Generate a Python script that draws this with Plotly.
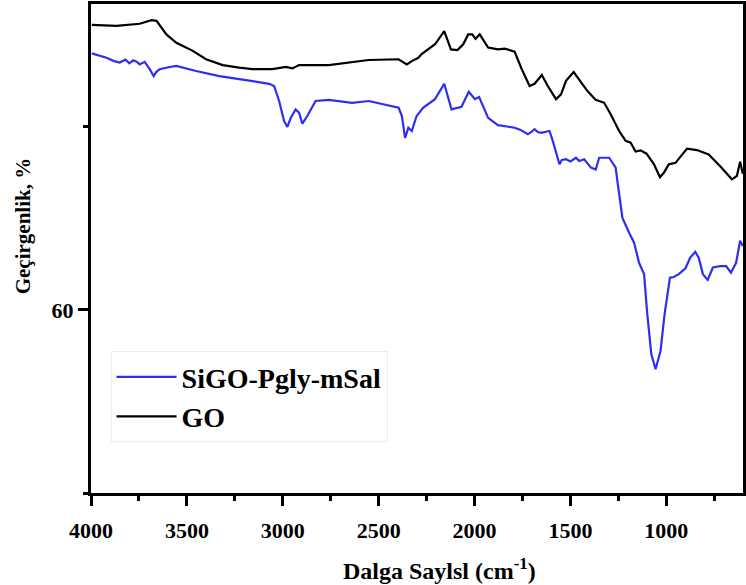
import plotly.graph_objects as go

# ---- data (wavenumber cm^-1, transmittance %) ----
go_wn = [3996, 3867, 3746, 3685, 3658, 3607, 3555, 3469, 3400, 3313, 3227, 3158, 3054,
         2984, 2950, 2915, 2760, 2639, 2552, 2396, 2371, 2353, 2327, 2293, 2276, 2206,
         2158, 2123, 2089, 2059, 2033, 2012, 1995, 1973, 1929, 1878, 1843, 1791, 1757,
         1713, 1687, 1649, 1618, 1575, 1549, 1523, 1483, 1454, 1411, 1368, 1324, 1290,
         1246, 1212, 1186, 1160, 1134, 1103, 1064, 1033, 1013, 987, 952, 892, 840, 779,
         719, 658, 632, 615, 601]
go_t = [67.79, 67.76, 67.82, 67.92, 67.90, 67.53, 67.30, 67.08, 66.85, 66.69, 66.62, 66.58,
        66.58, 66.64, 66.60, 66.69, 66.69, 66.76, 66.83, 66.85, 66.76, 66.71, 66.80, 66.89,
        66.99, 67.26, 67.62, 67.12, 67.10, 67.26, 67.53, 67.53, 67.41, 67.53, 67.17, 67.12,
        67.14, 67.06, 66.62, 66.12, 66.18, 66.42, 66.12, 65.76, 65.89, 66.26, 66.50, 66.30,
        65.98, 65.74, 65.66, 65.35, 64.89, 64.62, 64.57, 64.33, 64.36, 64.27, 63.98, 63.63,
        63.75, 63.98, 64.02, 64.41, 64.37, 64.25, 63.93, 63.57, 63.66, 64.05, 63.72]

sigo_wn = [3996, 3950, 3919, 3880, 3850, 3820, 3800, 3780, 3760, 3746, 3720, 3694, 3673,
           3660, 3642, 3590, 3555, 3452, 3331, 3192, 3071, 3045, 3019, 2993, 2976, 2958,
           2933, 2915, 2898, 2872, 2829, 2760, 2639, 2552, 2396, 2379, 2362, 2345, 2327,
           2302, 2267, 2206, 2158, 2120, 2068, 2030, 1998, 1976, 1929, 1878, 1791, 1760,
           1722, 1700, 1687, 1670, 1653, 1609, 1592, 1557, 1545, 1523, 1500, 1471, 1454,
           1428, 1393, 1368, 1350, 1298, 1264, 1255, 1229, 1194, 1168, 1142, 1116, 1099,
           1078, 1056, 1030, 1009, 981, 961, 935, 900, 875, 849, 831, 809, 784, 757, 719,
           688, 663, 636, 615, 601]
sigo_t = [67.01, 66.95, 66.89, 66.80, 66.76, 66.84, 66.74, 66.82, 66.78, 66.71, 66.78,
          66.58, 66.39, 66.50, 66.58, 66.64, 66.67, 66.53, 66.39, 66.28, 66.18, 66.12,
          65.71, 65.16, 65.00, 65.25, 65.48, 65.39, 65.09, 65.30, 65.71, 65.74, 65.66,
          65.71, 65.53, 65.30, 64.70, 64.98, 64.89, 65.30, 65.53, 65.76, 66.18, 65.48,
          65.55, 65.96, 65.76, 65.82, 65.25, 65.05, 64.98, 64.92, 64.80, 64.88, 64.94,
          64.86, 64.84, 64.89, 64.62, 63.98, 64.10, 64.12, 64.06, 64.16, 64.07, 64.12,
          63.89, 63.84, 64.16, 64.16, 63.89, 63.52, 62.52, 62.11, 61.84, 61.29, 60.98,
          59.88, 58.79, 58.38, 58.88, 59.88, 60.88, 60.90, 60.98, 61.14, 61.43, 61.59,
          61.43, 60.98, 60.82, 61.16, 61.20, 61.20, 61.02, 61.29, 61.89, 61.75]

names = ["SiGO-Pgly-mSal", "GO"]
x_range = [4000, 600]
y_range = [55, 68.36]
x_ticks = [4000, 3500, 3000, 2500, 2000, 1500, 1000]
y_ticks = [60]

FONT = "Liberation Serif"

fig = go.Figure()
fig.add_trace(go.Scatter(x=sigo_wn, y=sigo_t, mode="lines", name=names[0],
                         line=dict(color="#2e2ef2", width=2.2)))
fig.add_trace(go.Scatter(x=go_wn, y=go_t, mode="lines", name=names[1],
                         line=dict(color="#000000", width=2.2)))

fig.update_layout(
    width=746, height=585,
    margin=dict(l=91, r=0, t=4, b=92),
    paper_bgcolor="white", plot_bgcolor="white",
    font=dict(family=FONT, color="black"),
    showlegend=True,
    legend=dict(
        x=0.03, y=0.29, xanchor="left", yanchor="top",
        bgcolor="white", bordercolor="#ececec", borderwidth=1,
        font=dict(family=FONT, size=28, color="black", weight="bold"),
        itemwidth=60, tracegroupgap=0,
    ),
    annotations=[
        dict(text="<b>Dalga Saylsl (cm<sup>-1</sup>)</b>", xref="paper", yref="paper",
             x=(441 - 91) / 655, y=-(569 - 493) / 489, xanchor="center", yanchor="middle",
             showarrow=False, font=dict(family=FONT, size=24, color="black")),
        dict(text="<b>Geçirgenlik, %</b>", xref="paper", yref="paper",
             x=-(91 - 23) / 655, y=(493 - 226) / 489, xanchor="center", yanchor="middle",
             textangle=-90, showarrow=False, font=dict(family=FONT, size=21, color="black")),
    ],
)

fig.update_xaxes(
    range=x_range, tickvals=x_ticks, ticktext=[str(v) for v in x_ticks],
    showgrid=False, zeroline=False,
    showline=True, linecolor="black", linewidth=3, mirror=True,
    ticks="outside", ticklen=10, tickwidth=3, tickcolor="black",
    tickfont=dict(family=FONT, size=22, color="black", weight="bold"),
    minor=dict(dtick=250, ticks="outside", ticklen=5, tickwidth=3, tickcolor="black",
               showgrid=False, tick0=0),
    ticklabelstandoff=6,
)
fig.update_yaxes(
    range=y_range, tickvals=y_ticks, ticktext=[str(v) for v in y_ticks],
    showgrid=False, zeroline=False,
    showline=True, linecolor="black", linewidth=3, mirror=True,
    ticks="outside", ticklen=10, tickwidth=3, tickcolor="black",
    tickfont=dict(family=FONT, size=22, color="black", weight="bold"),
    minor=dict(tickvals=[55, 65], ticks="outside", ticklen=5, tickwidth=3,
               tickcolor="black", showgrid=False),
)

fig.write_html("out.html")
